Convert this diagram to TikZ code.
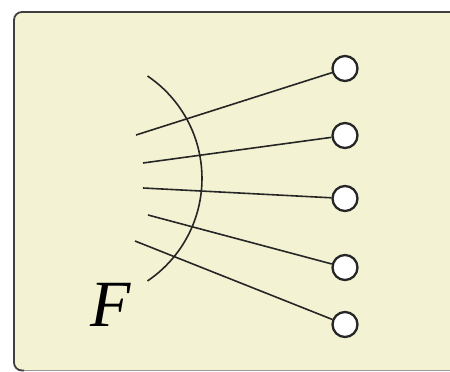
\documentclass[tikz,border=0pt]{standalone}
\usepackage{fontspec}
\newfontfamily\timesf{Liberation Serif}
\begin{document}
\begin{tikzpicture}[x=1pt,y=-1pt,
  ray/.style={line width=1.6pt, black!85},
  port/.style={circle, draw=black!85, line width=2.3pt, fill=white, minimum size=25pt, inner sep=0pt},
  framebox/.style={fill=paper, rounded corners=8pt}]
\definecolor{paper}{RGB}{243,243,211}
\useasboundingbox (0,0) rectangle (450,372);
\begin{scope}
\clip (0,0) rectangle (450,372);
\fill[framebox] (14,12) rectangle (470,370.5);
\draw[black!40, line width=1.2pt] (20,370.5) -- (470,370.5);
\draw[black!75, line width=1.8pt, rounded corners=8pt] (24,370.5) -- (14,370.5) -- (14,12) -- (470,12);
\end{scope}
\node[port] (c1) at (345,68.5) {};
\node[port] (c2) at (345,135.5) {};
\node[port] (c3) at (345,198.5) {};
\node[port] (c4) at (345,267.5) {};
\node[port] (c5) at (345,324.5) {};
\coordinate (s1) at (136,135);
\coordinate (s2) at (143,163);
\coordinate (s3) at (143,188);
\coordinate (s4) at (148,215);
\coordinate (s5) at (135,241);
\draw[ray] (s1) -- (c1);
\draw[ray] (s2) -- (c2);
\draw[ray] (s3) -- (c3);
\draw[ray] (s4) -- (c4);
\draw[ray] (s5) -- (c5);
\coordinate (atop) at (147.5,76);
\draw[ray] (atop) arc[start angle=-56, end angle=56, radius=123.6];
\node[inner sep=0pt] (F) at (111,305) {\fontsize{66}{66}\selectfont\timesf\itshape F};
\end{tikzpicture}
\end{document}
